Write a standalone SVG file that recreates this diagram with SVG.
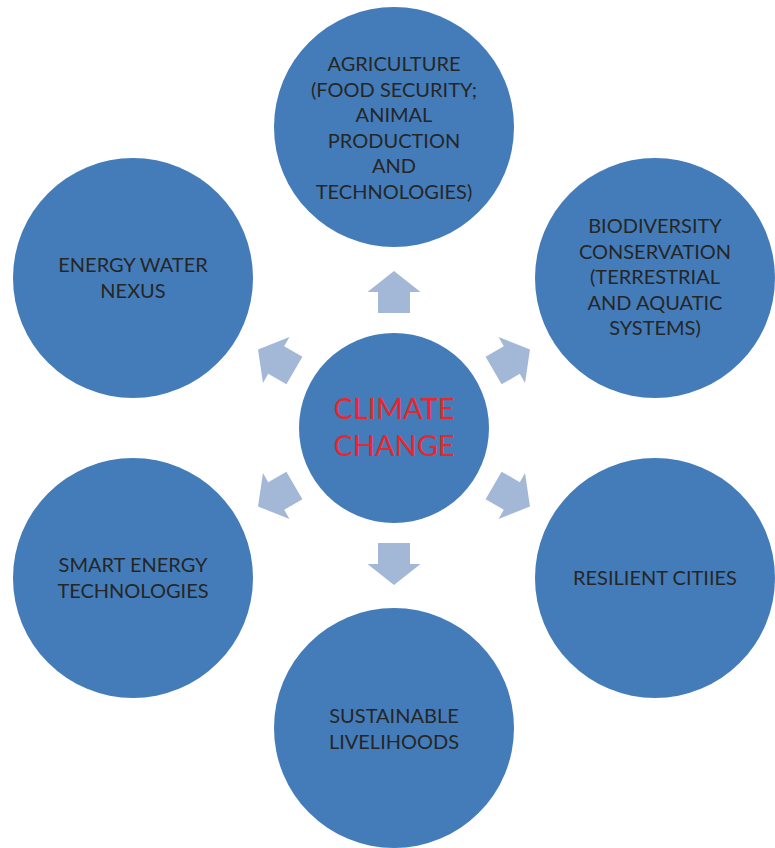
<svg xmlns="http://www.w3.org/2000/svg" width="775" height="848" viewBox="0 0 775 848">
  <defs>
    <style>
      .node { fill: #437cb9; }
      .lbl { font-family: Lato, "Noto Sans", "Liberation Sans", sans-serif; font-size: 20px; fill: #262626; text-anchor: middle; }
      .hub { font-family: Lato, "Noto Sans", "Liberation Sans", sans-serif; font-size: 29px; fill: #e8262b; text-anchor: middle; }
      .arrow { fill: #a3b8d6; }
    </style>
    <!-- block arrow pointing along +x, starting 115px from the hub centre -->
    <polygon id="blk" points="115,-16 136,-16 136,-26.5 157,0 136,26.5 136,16 115,16"/>
  </defs>
  <rect width="775" height="848" fill="#ffffff"/>

  <g id="connectors" class="arrow" transform="translate(394,428)">
    <use href="#blk" transform="rotate(-90)"/>
    <use href="#blk" transform="rotate(-30)"/>
    <use href="#blk" transform="rotate(30)"/>
    <use href="#blk" transform="rotate(90)"/>
    <use href="#blk" transform="rotate(150)"/>
    <use href="#blk" transform="rotate(210)"/>
  </g>

  <g id="climate-change">
    <circle class="node" cx="394" cy="428" r="95"/>
    <text class="hub" x="394" y="419">CLIMATE</text>
    <text class="hub" x="394" y="456">CHANGE</text>
  </g>

  <g id="agriculture">
    <circle class="node" cx="394" cy="127" r="120"/>
    <text class="lbl" x="394" y="71">AGRICULTURE</text>
    <text class="lbl" x="394" y="96.6">(FOOD SECURITY;</text>
    <text class="lbl" x="394" y="122.2">ANIMAL</text>
    <text class="lbl" x="394" y="147.8">PRODUCTION</text>
    <text class="lbl" x="394" y="173.4">AND</text>
    <text class="lbl" x="394" y="199">TECHNOLOGIES)</text>
  </g>

  <g id="biodiversity">
    <circle class="node" cx="655" cy="278" r="120"/>
    <text class="lbl" x="655" y="233">BIODIVERSITY</text>
    <text class="lbl" x="655" y="258.6">CONSERVATION</text>
    <text class="lbl" x="655" y="284.2">(TERRESTRIAL</text>
    <text class="lbl" x="655" y="309.8">AND AQUATIC</text>
    <text class="lbl" x="655" y="335.4">SYSTEMS)</text>
  </g>

  <g id="resilient-cities">
    <circle class="node" cx="655" cy="578" r="120"/>
    <text class="lbl" x="655" y="585">RESILIENT CITIIES</text>
  </g>

  <g id="sustainable-livelihoods">
    <circle class="node" cx="394" cy="728" r="120"/>
    <text class="lbl" x="394" y="723">SUSTAINABLE</text>
    <text class="lbl" x="394" y="749">LIVELIHOODS</text>
  </g>

  <g id="smart-energy">
    <circle class="node" cx="133" cy="578" r="120"/>
    <text class="lbl" x="133" y="572">SMART ENERGY</text>
    <text class="lbl" x="133" y="598">TECHNOLOGIES</text>
  </g>

  <g id="energy-water">
    <circle class="node" cx="133" cy="278" r="120"/>
    <text class="lbl" x="133" y="272">ENERGY WATER</text>
    <text class="lbl" x="133" y="298">NEXUS</text>
  </g>
</svg>
